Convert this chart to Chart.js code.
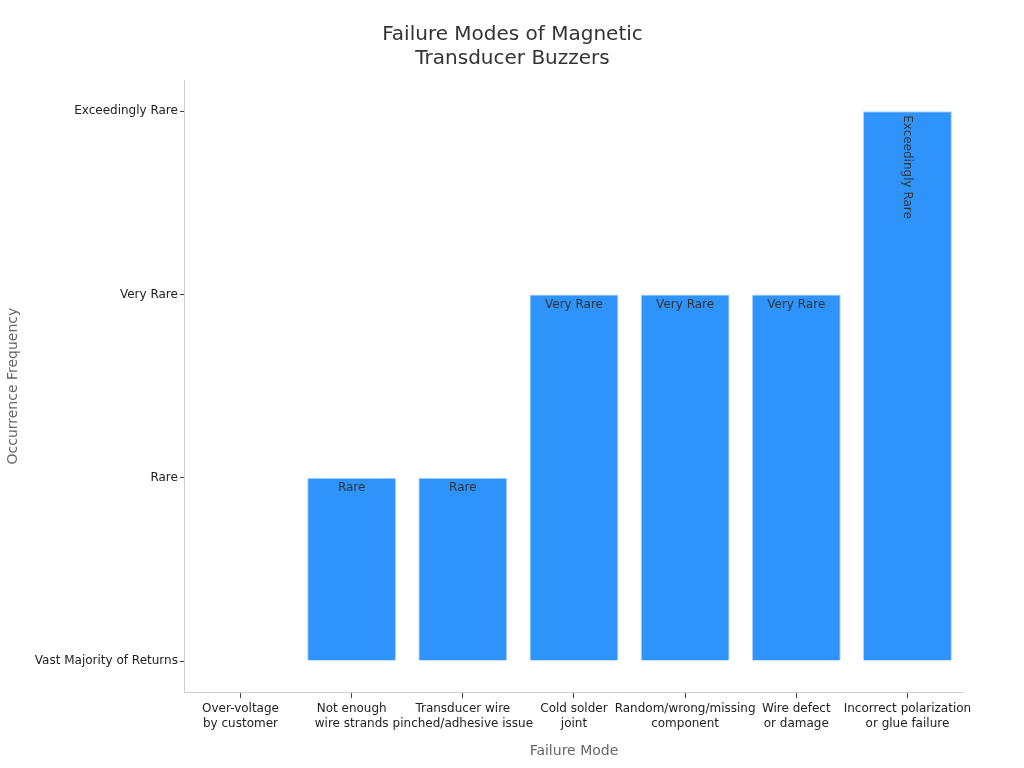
<!DOCTYPE html>
<html>
<head>
<meta charset="utf-8">
<script src="https://cdn.jsdelivr.net/npm/chart.js@4/dist/chart.umd.min.js"></script>
<style>
  body { margin: 0; background: #fff; }
  #wrap { width: 1024px; height: 768px; }
</style>
</head>
<body>
<div id="wrap"><canvas id="myChart"></canvas></div>
<script>
// categorias e niveis de frequencia
const modos = [
  ['Over-voltage', 'by customer'],
  ['Not enough', 'wire strands'],
  ['Transducer wire', 'pinched/adhesive issue'],
  ['Cold solder', 'joint'],
  ['Random/wrong/missing', 'component'],
  ['Wire defect', 'or damage'],
  ['Incorrect polarization', 'or glue failure']
];
const niveis = ['Vast Majority of Returns', 'Rare', 'Very Rare', 'Exceedingly Rare'];
const frequencia = [0, 1, 1, 2, 2, 2, 3];

// rotulos dentro das barras
const rotulosBarras = {
  id: 'rotulosBarras',
  afterDatasetsDraw(chart) {
    const ctx = chart.ctx;
    const meta = chart.getDatasetMeta(0);
    ctx.save();
    ctx.font = '12px "DejaVu Sans"';
    ctx.fillStyle = '#333';
    meta.data.forEach((bar, i) => {
      const v = frequencia[i];
      if (v <= 0) return;
      const txt = niveis[v];
      const w = ctx.measureText(txt).width;
      if (w < bar.width - 4) {
        ctx.textAlign = 'center';
        ctx.textBaseline = 'top';
        ctx.fillText(txt, bar.x, bar.y + 4);
      } else {
        ctx.translate(bar.x, bar.y + 4);
        ctx.rotate(Math.PI / 2);
        ctx.textAlign = 'left';
        ctx.textBaseline = 'middle';
        ctx.fillText(txt, 0, 0);
        ctx.setTransform(1, 0, 0, 1, 0, 0);
      }
    });
    ctx.restore();
  }
};

Chart.defaults.font.family = '"DejaVu Sans", sans-serif';

const ctx = document.getElementById('myChart').getContext('2d');

const myChart = new Chart(ctx, {
  type: 'bar',
  data: {
    labels: modos,
    datasets: [{
      data: frequencia,
      backgroundColor: 'rgb(46, 147, 250)',
      borderColor: 'rgba(180, 215, 250, 1)',
      borderWidth: 1,
      barPercentage: 0.8,
      categoryPercentage: 1.0
    }]
  },
  options: {
    responsive: true,
    maintainAspectRatio: false,
    animation: false,
    layout: { padding: { top: 10, right: 4, bottom: 4, left: 5 } },
    plugins: {
      legend: { display: false },
      tooltip: { enabled: false },
      title: {
        display: true,
        text: ['Failure Modes of Magnetic', 'Transducer Buzzers'],
        color: '#333',
        font: { size: 20, weight: 'normal' },
        padding: { top: 13, bottom: 9 },
        lineHeight: 1.25
      }
    },
    scales: {
      x: {
        border: { color: '#d0d0d0' },
        grid: { drawOnChartArea: false, offset: false, tickLength: 6, color: '#444' },
        ticks: { color: '#222', font: { size: 12, lineHeight: 1.25 }, maxRotation: 0, autoSkip: false, padding: 3 },
        title: { display: true, text: 'Failure Mode', color: '#666', font: { size: 14 }, padding: { top: 9 } }
      },
      y: {
        min: -0.17,
        max: 3.17,
        afterBuildTicks(axis) {
          axis.ticks = niveis.map((_, i) => ({ value: i }));
        },
        border: { color: '#d0d0d0' },
        grid: { drawOnChartArea: false, tickLength: 5, color: '#444' },
        ticks: {
          color: '#222',
          font: { size: 12 },
          padding: 2,
          callback: (v) => niveis[v]
        },
        title: { display: true, text: 'Occurrence Frequency', color: '#666', font: { size: 14 }, padding: { top: 0, bottom: 11 } }
      },
      // eixo vazio so para reservar espaco a direita
      yDireita: {
        position: 'right',
        display: true,
        border: { display: false },
        grid: { display: false },
        ticks: { display: false },
        afterFit(axis) { axis.width = 57; }
      }
    }
  },
  plugins: [rotulosBarras]
});
</script>
</body>
</html>
